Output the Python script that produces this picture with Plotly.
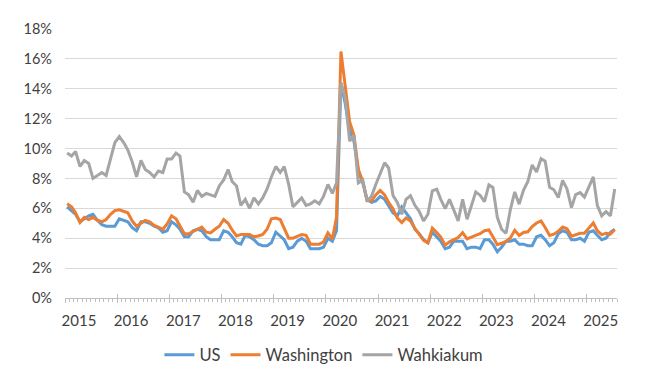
import pandas as pd
import plotly.graph_objects as go

# Monthly unemployment rate (%), Jan 2015 - Jul 2025
us = [
    6.1, 5.8, 5.6, 5.1, 5.3, 5.5, 5.6, 5.2, 4.9, 4.8, 4.8, 4.8,
    5.3, 5.2, 5.1, 4.7, 4.5, 5.1, 5.1, 5.0, 4.8, 4.7, 4.4, 4.5,
    5.1, 4.9, 4.6, 4.1, 4.1, 4.5, 4.6, 4.5, 4.1, 3.9, 3.9, 3.9,
    4.5, 4.4, 4.1, 3.7, 3.6, 4.2, 4.1, 3.9, 3.6, 3.5, 3.5, 3.7,
    4.4, 4.1, 3.9, 3.3, 3.4, 3.8, 4.0, 3.8, 3.3, 3.3, 3.3, 3.4,
    4.0, 3.8, 4.5, 14.4, 13.0, 11.2, 10.5, 8.5, 7.7, 6.6, 6.4, 6.5,
    6.8, 6.6, 6.2, 5.7, 5.5, 6.1, 5.7, 5.3, 4.6, 4.3, 3.9, 3.7,
    4.4, 4.1, 3.8, 3.3, 3.4, 3.8, 3.8, 3.8, 3.3, 3.4, 3.4, 3.3,
    3.9, 3.9, 3.6, 3.1, 3.4, 3.8, 3.8, 3.9, 3.6, 3.6, 3.5, 3.5,
    4.1, 4.2, 3.9, 3.5, 3.7, 4.3, 4.5, 4.4, 3.9, 3.9, 4.0, 3.8,
    4.4, 4.5, 4.2, 3.9, 4.0, 4.4, 4.6,
]

washington = [
    6.3, 6.1, 5.7, 5.05, 5.4, 5.25, 5.4, 5.2, 5.1, 5.25, 5.6, 5.85,
    5.9, 5.8, 5.7, 5.15, 4.8, 5.0, 5.2, 5.1, 4.85, 4.75, 4.6, 4.95,
    5.5, 5.3, 4.8, 4.3, 4.3, 4.45, 4.6, 4.75, 4.4, 4.35, 4.6, 4.8,
    5.25, 5.0, 4.55, 4.15, 4.25, 4.25, 4.25, 4.1, 4.15, 4.25, 4.6, 5.3,
    5.35, 5.25, 4.6, 4.0, 4.0, 4.15, 4.25, 4.2, 3.6, 3.6, 3.6, 3.75,
    4.35, 3.95, 5.4, 16.5, 14.3, 11.8, 10.9, 8.6, 7.8, 6.5, 6.5, 6.9,
    7.2, 6.9, 6.4, 5.95, 5.35, 5.05, 5.35, 5.15, 4.65, 4.27, 3.86, 3.69,
    4.68, 4.38, 4.08, 3.54, 3.76, 3.91, 4.05, 4.38, 3.96, 4.08, 4.18, 4.3,
    4.5, 4.55, 4.1, 3.57, 3.66, 3.79, 4.02, 4.53, 4.18, 4.38, 4.43, 4.78,
    5.02, 5.16, 4.72, 4.18, 4.27, 4.46, 4.75, 4.63, 4.14, 4.22, 4.33, 4.33,
    4.69, 5.03, 4.5, 4.24, 4.33, 4.28, 4.58,
]

wahkiakum = [
    9.7, 9.5, 9.8, 8.8, 9.2, 9.0, 8.0, 8.2, 8.4, 8.2, 9.4, 10.4,
    10.8, 10.4, 9.9, 9.1, 8.1, 9.2, 8.6, 8.4, 8.1, 8.5, 8.4, 9.3,
    9.3, 9.7, 9.5, 7.1, 6.9, 6.4, 7.2, 6.8, 7.0, 6.9, 6.8, 7.5,
    7.9, 8.6, 7.8, 7.5, 6.2, 6.6, 6.0, 6.7, 6.3, 6.7, 7.3, 8.1,
    8.8, 8.4, 8.8, 7.6, 6.1, 6.4, 6.7, 6.2, 6.3, 6.5, 6.3, 6.8,
    7.6, 7.0, 7.7, 14.4, 13.4, 10.5, 10.9, 7.7, 7.9, 6.5, 6.8, 7.6,
    8.3, 9.05, 8.7, 6.85, 6.4, 5.6, 6.6, 6.85, 6.2, 5.8, 5.15, 5.6,
    7.17, 7.28, 6.6, 5.98, 6.6, 5.8, 5.16, 6.6, 5.27, 6.16, 7.1, 6.88,
    6.45, 7.57, 7.4, 5.4, 4.6, 4.33, 5.9, 7.1, 6.28, 7.2, 7.8, 8.9,
    8.43, 9.32, 9.15, 7.4, 7.24, 6.72, 7.87, 7.3, 6.05, 6.92, 7.05, 6.75,
    7.4, 8.1, 6.2, 5.5, 5.78, 5.5, 7.3,
]

series_names = ["US", "Washington", "Wahkiakum"]
series_colors = ["#5B9BD5", "#ED7D31", "#A5A5A5"]
y_ticks = [0, 2, 4, 6, 8, 10, 12, 14, 16, 18]
y_tick_labels = ["0%", "2%", "4%", "6%", "8%", "10%", "12%", "14%", "16%", "18%"]

start = "2015-01-01"
end = "2025-08-01"
months = pd.date_range(start, periods=len(us), freq="MS") + pd.Timedelta(days=15)

FONT = "Lato"
TXT = "#404040"
AXC = "#BFBFBF"

fig = go.Figure()
for name, vals, col in zip(series_names, [us, washington, wahkiakum], series_colors):
    fig.add_trace(go.Scatter(x=months, y=vals, mode="lines", name=name,
                             line=dict(color=col, width=3)))

# helper trace so the overlay axis (upper half of major ticks) is drawn
fig.add_trace(go.Scatter(x=[months[0]], y=[None], xaxis="x2", yaxis="y",
                         showlegend=False, hoverinfo="skip"))

# the page body has an 8px margin, so the figure is sized to fit inside the window
fig.update_layout(
    width=642, height=370,
    margin=dict(l=57, r=33, t=21, b=80, autoexpand=False),
    paper_bgcolor="white", plot_bgcolor="white",
    font=dict(family=FONT, size=14, color=TXT),
    showlegend=True,
    legend=dict(orientation="h", x=0.469, xanchor="center", y=-0.212, yanchor="middle",
                font=dict(family=FONT, size=16.5, color=TXT), itemwidth=30,
                bgcolor="rgba(0,0,0,0)"),
    xaxis=dict(type="date", range=[start, end], tick0=start, dtick="M12",
               tickformat="%Y", ticks="outside", ticklen=4, tickcolor=AXC, tickwidth=1,
               showline=True, linecolor=AXC, linewidth=1, showgrid=False, zeroline=False,
               ticklabelshift=14, ticklabelstandoff=5, automargin=False,
               tickfont=dict(family=FONT, size=15, color=TXT),
               minor=dict(dtick="M1", tick0=start, ticks="outside", ticklen=3,
                          tickcolor=AXC, tickwidth=1, showgrid=False)),
    xaxis2=dict(type="date", range=[start, end], overlaying="x", anchor="y", side="bottom",
                tick0=start, dtick="M12", ticks="inside", ticklen=4, tickcolor=AXC,
                tickwidth=1, showticklabels=False, showgrid=False, showline=False,
                zeroline=False, automargin=False),
    yaxis=dict(range=[0, 18], tickvals=y_ticks, ticktext=y_tick_labels, showgrid=True,
               gridcolor="#D9D9D9", gridwidth=1, zeroline=False, showline=False,
               ticks="", ticklabelstandoff=12, automargin=False,
               tickfont=dict(family=FONT, size=14.5, color=TXT)),
)

fig.write_html("out.html")
